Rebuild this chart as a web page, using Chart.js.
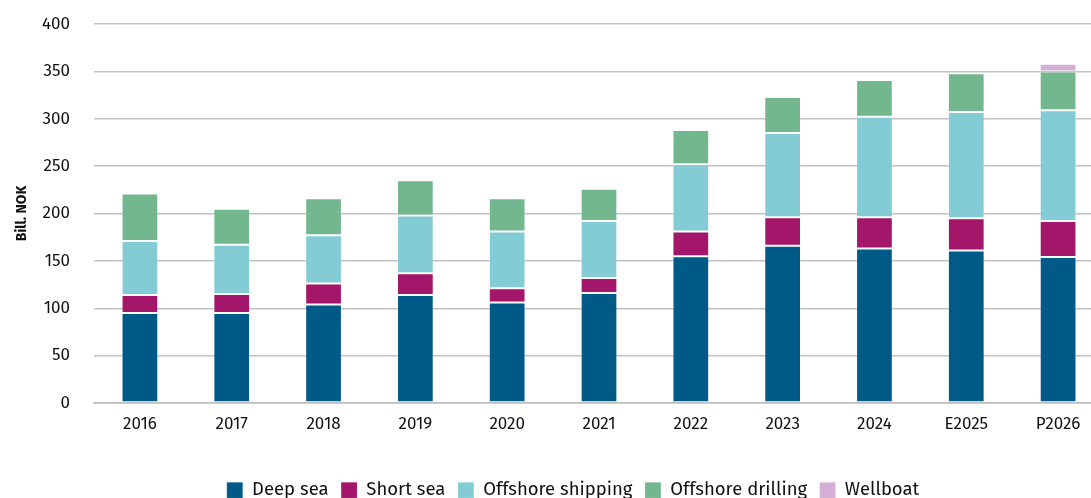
<!DOCTYPE html>
<html>
<head>
<meta charset="utf-8">
<script src="https://cdn.jsdelivr.net/npm/chart.js@4"></script>
<style>
  html, body { margin: 0; padding: 0; background: #fff; overflow: hidden; }
  #wrap { width: 1104px; height: 498px; }
</style>
</head>
<body>
<div id="wrap"><canvas id="c" width="1104" height="498"></canvas></div>
<script>
// Years on the category axis
const years = ['2016', '2017', '2018', '2019', '2020', '2021', '2022', '2023', '2024', 'E2025', 'P2026'];

// Segment values, billion NOK
const deepSea          = [95, 95, 104, 114, 106, 116, 155, 166, 163, 161, 154];
const shortSea         = [19, 20, 22, 23, 15, 16, 26, 30, 33, 34, 38];
const offshoreShipping = [57, 52, 51, 61, 60, 60, 71, 89, 106, 112, 117];
const offshoreDrilling = [50, 38, 39, 37, 35, 34, 36, 38, 39, 41, 41];
const wellboat         = [0, 0, 0, 0, 0, 0, 0, 0, 0, 0, 8];

// Value-axis tick range
const yMin = 0, yMax = 400, yStep = 50;

const fontFamily = '"Fira Sans", "Noto Sans", "Open Sans", sans-serif';

function series(label, data, color) {
  return {
    label, data,
    backgroundColor: color,
    borderColor: 'rgba(255,255,255,0.2)',
    borderWidth: 1,
    borderSkipped: false,
    barPercentage: 0.4,
    categoryPercentage: 1.0
  };
}

// Places the legend row beneath the axis labels
const legendPlacer = {
  id: 'legendPlacer',
  afterUpdate(chart) {
    const lg = chart.legend;
    if (!lg) return;
    const dx = 573 - (lg.left + lg.right) / 2;
    const dy = 481 - lg.top - lg.options.labels.padding;
    lg.left += dx; lg.right += dx;
    lg.top += dy; lg.bottom += dy;
  }
};

new Chart(document.getElementById('c'), {
  type: 'bar',
  data: {
    labels: years,
    datasets: [
      series('Deep sea', deepSea, '#005a87'),
      series('Short sea', shortSea, '#a4166a'),
      series('Offshore shipping', offshoreShipping, '#84ccd5'),
      series('Offshore drilling', offshoreDrilling, '#73b78e'),
      series('Wellboat', wellboat, '#d5afd6')
    ]
  },
  options: {
    responsive: false,
    animation: false,
    devicePixelRatio: 1,
    layout: { padding: { top: 24, right: 0, bottom: 0, left: 0 } },
    plugins: {
      tooltip: { enabled: false },
      title: { display: false },
      legend: {
        position: 'bottom',
        labels: {
          boxWidth: 16,
          boxHeight: 16,
          padding: 12.5,
          color: '#111',
          font: { family: fontFamily, size: 18.5 }
        }
      }
    },
    scales: {
      x: {
        stacked: true,
        grid: { display: false, drawTicks: false },
        border: { display: true, color: '#bdbdbd', width: 1.5 },
        ticks: {
          color: '#111',
          padding: 11,
          maxRotation: 0,
          font: { family: fontFamily, size: 17 }
        },
        afterFit(axis) { axis.height = 54; }
      },
      y: {
        stacked: true,
        min: yMin,
        max: yMax,
        grid: { color: '#c2c2c2', lineWidth: 1.5, drawTicks: false },
        border: { display: false },
        ticks: {
          stepSize: yStep,
          color: '#111',
          padding: 24,
          font: { family: fontFamily, size: 17 }
        },
        title: {
          display: true,
          text: 'Bill. NOK',
          color: '#111',
          padding: { top: 14, bottom: 0 },
          font: { family: fontFamily, size: 14, weight: 'bold' }
        },
        afterFit(axis) {
          axis.width = 94;
          axis.paddingTop = 0;
          axis.paddingBottom = 0;
        }
      }
    }
  },
  plugins: [legendPlacer]
});
</script>
</body>
</html>
